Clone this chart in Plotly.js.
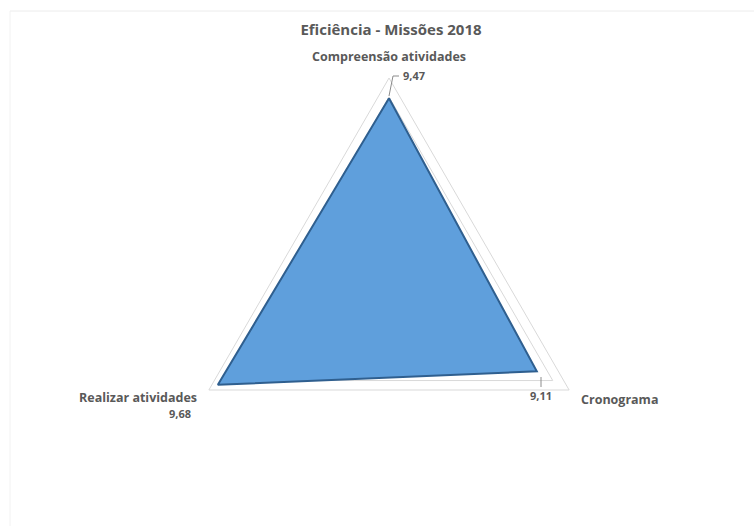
<!DOCTYPE html>
<html>
<head>
<meta charset="utf-8">
<script src="https://cdn.plot.ly/plotly-3.0.1.min.js"></script>
<style>html,body{margin:0;padding:0;background:#fff;}#chart{width:754px;height:526px;}</style>
</head>
<body>
<div id="chart"></div>
<script>
const categories = ["Compreensão atividades", "Cronograma", "Realizar atividades"];
const values = [9.47, 9.11, 9.68];
const valueLabels = ["9,47", "9,11", "9,68"];
const chartTitle = "Eficiência - Missões 2018";

const W = 754, H = 526;
const px = x => x / W;
const py = y => 1 - y / H;

const gray = "#595959";
const fontFam = "'Open Sans', 'Noto Sans', sans-serif";
const catFont = {family: fontFam, size: 12.5, color: gray, weight: 700};
const valFont = {family: fontFam, size: 11, color: gray, weight: 700};

const trace = {
  type: "scatterpolar",
  r: values.concat([values[0]]),
  theta: categories.concat([categories[0]]),
  mode: "lines",
  fill: "toself",
  fillcolor: "#5f9fdc",
  line: {color: "#2f5f8f", width: 2},
  hoverinfo: "skip",
  showlegend: false
};

function ann(x, y, text, font, xanchor) {
  return {xref: "paper", yref: "paper", x: px(x), y: py(y), text: text,
          showarrow: false, xanchor: xanchor || "center", yanchor: "middle",
          borderpad: 0, font: font};
}

const layout = {
  width: W, height: H,
  margin: {l: 0, r: 0, t: 0, b: 0},
  paper_bgcolor: "#ffffff",
  title: {
    text: chartTitle,
    x: px(391), xanchor: "center",
    y: py(30), yanchor: "middle",
    font: {family: fontFam, size: 15, color: gray, weight: 700}
  },
  polar: {
    domain: {x: [px(181), px(597)], y: [py(494), py(78)]},
    bgcolor: "rgba(0,0,0,0)",
    gridshape: "linear",
    radialaxis: {
      range: [5.5, 9.9],
      tickvals: [9.5],
      showticklabels: false,
      ticks: "",
      showline: false,
      gridcolor: "#d9d9d9",
      gridwidth: 1
    },
    angularaxis: {
      direction: "clockwise",
      rotation: 90,
      showgrid: false,
      showticklabels: false,
      linecolor: "#d9d9d9",
      linewidth: 1,
      ticks: ""
    }
  },
  annotations: [
    ann(389, 57, categories[0], catFont, "center"),
    ann(580, 399, categories[1], catFont, "left"),
    ann(198, 397, categories[2], catFont, "right"),
    ann(402, 75, valueLabels[0], valFont, "left"),
    ann(541, 395, valueLabels[1], valFont, "center"),
    ann(192, 413, valueLabels[2], valFont, "right")
  ],
  shapes: [
    {type: "line", xref: "paper", yref: "paper", x0: px(10), x1: 1, y0: py(11), y1: py(11),
     line: {color: "#ececec", width: 1}},
    {type: "line", xref: "paper", yref: "paper", x0: px(10), x1: px(10), y0: py(11), y1: 0,
     line: {color: "#f2f2f2", width: 1}},
    {type: "path", xref: "paper", yref: "paper",
     path: "M " + px(399) + "," + py(76) + " L " + px(393) + "," + py(76) + " L " + px(389) + "," + py(96),
     line: {color: "#8c8c8c", width: 1}},
    {type: "line", xref: "paper", yref: "paper", x0: px(541), x1: px(541), y0: py(377), y1: py(387),
     line: {color: "#8c8c8c", width: 1}}
  ]
};

Plotly.newPlot("chart", [trace], layout, {displayModeBar: false, staticPlot: true});
</script>
</body>
</html>
